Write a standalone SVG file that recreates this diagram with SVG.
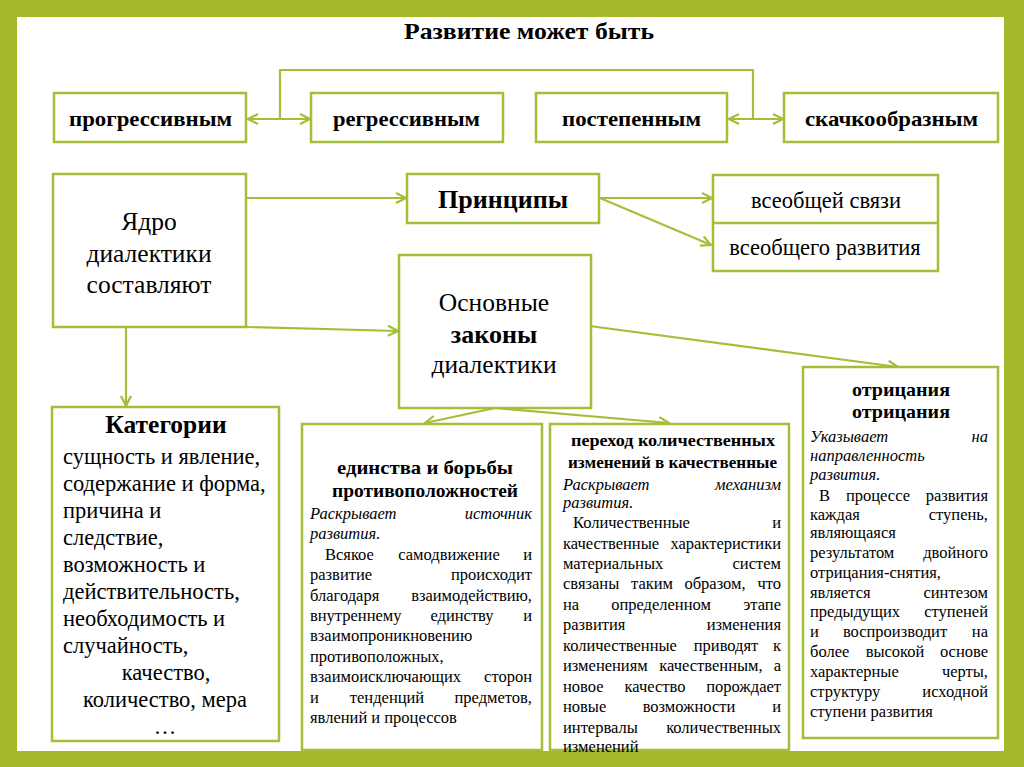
<svg xmlns="http://www.w3.org/2000/svg" width="1024" height="767" viewBox="0 0 1024 767">
<style>
.box{fill:#fff;stroke:#a3bf37;stroke-width:2.5}
.ln{fill:none;stroke:#a3bf37;stroke-width:2.2}
.t{font-family:"Liberation Serif","Times New Roman",serif;fill:#000}
.b{font-weight:bold}
.i{font-style:italic}
.c{text-anchor:middle}
.e{text-anchor:end}
.body{font-size:16.5px}
</style>
<defs>
<marker id="ah" viewBox="0 0 12 12" refX="11" refY="6" markerWidth="12" markerHeight="12" markerUnits="userSpaceOnUse" orient="auto-start-reverse">
<path d="M1,1 L11,6 L1,11" fill="none" stroke="#a3bf37" stroke-width="2.2"/>
</marker>
</defs>
<rect x="0" y="0" width="1024" height="767" fill="#a5b92a"/>
<rect x="17" y="17" width="987" height="734" fill="#fff"/>

<text class="t b c" x="529" y="39" font-size="24" textLength="250" lengthAdjust="spacingAndGlyphs">Развитие может быть</text>

<g id="connectors">
<path class="ln" d="M280,119 V70 H753 V119"/>
<path class="ln" d="M248,119 H310" marker-start="url(#ah)" marker-end="url(#ah)"/>
<path class="ln" d="M729,119 H783" marker-start="url(#ah)" marker-end="url(#ah)"/>
<path class="ln" d="M247,198 H406" marker-end="url(#ah)"/>
<path class="ln" d="M247,327 L398,331" marker-end="url(#ah)"/>
<path class="ln" d="M126,327 V406" marker-end="url(#ah)"/>
<path class="ln" d="M600,198 H712" marker-end="url(#ah)"/>
<path class="ln" d="M600,198 L711,245" marker-end="url(#ah)"/>
<path class="ln" d="M582,325 L898,367" marker-end="url(#ah)"/>
<path class="ln" d="M495,408 L425,423" marker-end="url(#ah)"/>
<path class="ln" d="M495,408 L669,423" marker-end="url(#ah)"/>
</g>

<g id="n-progressive">
<rect class="box" x="54" y="93" width="192" height="49"/>
<text class="t b c" x="150.5" y="126" font-size="21" textLength="163" lengthAdjust="spacingAndGlyphs">прогрессивным</text>
</g>
<g id="n-regressive">
<rect class="box" x="311" y="93" width="192" height="49"/>
<text class="t b c" x="406.5" y="126" font-size="21" textLength="147" lengthAdjust="spacingAndGlyphs">регрессивным</text>
</g>
<g id="n-gradual">
<rect class="box" x="536" y="93" width="191" height="49"/>
<text class="t b c" x="631.5" y="126" font-size="21" textLength="139" lengthAdjust="spacingAndGlyphs">постепенным</text>
</g>
<g id="n-leap">
<rect class="box" x="784" y="93" width="214" height="49"/>
<text class="t b c" x="891.5" y="126" font-size="21" textLength="173" lengthAdjust="spacingAndGlyphs">скачкообразным</text>
</g>

<g id="n-core">
<rect class="box" x="53" y="174" width="193" height="153"/>
<text class="t c" x="149" y="230" font-size="25.5">Ядро</text>
<text class="t c" x="149" y="262" font-size="25.5">диалектики</text>
<text class="t c" x="149" y="293" font-size="25.5">составляют</text>
</g>

<g id="n-principles">
<rect class="box" x="407" y="174" width="192" height="49"/>
<text class="t b c" x="503" y="208" font-size="26">Принципы</text>
</g>

<g id="n-universal">
<rect class="box" x="713" y="175" width="225" height="96"/>
<line x1="713" y1="223" x2="938" y2="223" stroke="#a3bf37" stroke-width="2.5"/>
<text class="t c" x="826" y="208" font-size="22.5">всеобщей связи</text>
<text class="t c" x="825" y="255" font-size="22.5">всеобщего развития</text>
</g>

<g id="n-laws">
<rect class="box" x="399" y="255" width="192" height="153"/>
<text class="t c" x="494" y="311" font-size="25.5">Основные</text>
<text class="t b c" x="494" y="343" font-size="26">законы</text>
<text class="t c" x="494" y="373" font-size="25.5">диалектики</text>
</g>

<g id="n-categories">
<rect class="box" x="52" y="407" width="227" height="334"/>
<text class="t b c" x="166" y="433" font-size="25.5">Категории</text>
<g class="t" font-size="22.5">
<text x="63" y="464">сущность и явление,</text>
<text x="63" y="491">содержание и форма,</text>
<text x="63" y="518">причина и</text>
<text x="63" y="545">следствие,</text>
<text x="63" y="572">возможность и</text>
<text x="63" y="599">действительность,</text>
<text x="63" y="626">необходимость и</text>
<text x="63" y="653">случайность,</text>
<text class="c" x="166" y="680">качество,</text>
<text class="c" x="165" y="707">количество, мера</text>
<text class="c" x="165" y="734">…</text>
</g>
</g>

<g id="n-unity">
<rect class="box" x="302" y="424" width="240" height="326"/>
<text class="t b c" x="425" y="474" font-size="19" textLength="176" lengthAdjust="spacingAndGlyphs">единства и борьбы</text>
<text class="t b c" x="425" y="497" font-size="19" textLength="186" lengthAdjust="spacingAndGlyphs">противоположностей</text>
<g class="t body">
<text class="i" x="310" y="519">Раскрывает</text><text class="i e" x="532" y="519">источник</text>
<text class="i" x="310" y="539">развития.</text>
<text x="325" y="560">Всякое</text><text class="c" x="449" y="560">самодвижение</text><text class="e" x="532" y="560">и</text>
<text x="310" y="580">развитие</text><text class="e" x="532" y="580">происходит</text>
<text x="310" y="601">благодаря</text><text class="e" x="532" y="601">взаимодействию,</text>
<text x="310" y="621">внутреннему</text><text class="c" x="462" y="621">единству</text><text class="e" x="532" y="621">и</text>
<text x="310" y="641">взаимопроникновению</text>
<text x="310" y="662">противоположных,</text>
<text x="310" y="682">взаимоисключающих</text><text class="e" x="532" y="682">сторон</text>
<text x="310" y="703">и</text><text class="c" x="387" y="703">тенденций</text><text class="e" x="532" y="703">предметов,</text>
<text x="310" y="723">явлений и процессов</text>
</g>
</g>

<g id="n-transition">
<rect class="box" x="550" y="424" width="239" height="326"/>
<text class="t b c" x="673" y="446" font-size="17.5" textLength="204" lengthAdjust="spacingAndGlyphs">переход количественных</text>
<text class="t b c" x="672.5" y="468" font-size="17.5" textLength="209" lengthAdjust="spacingAndGlyphs">изменений в качественные</text>
<g class="t body">
<text class="i" x="563" y="490">Раскрывает</text><text class="i e" x="781" y="490">механизм</text>
<text class="i" x="563" y="508">развития.</text>
<text x="573" y="528">Количественные</text><text class="e" x="781" y="528">и</text>
<text x="563" y="549">качественные</text><text class="e" x="781" y="549">характеристики</text>
<text x="563" y="569">материальных</text><text class="e" x="781" y="569">систем</text>
<text x="563" y="589">связаны</text><text class="c" x="652" y="589">таким</text><text class="c" x="715" y="589">образом,</text><text class="e" x="781" y="589">что</text>
<text x="563" y="610">на</text><text class="c" x="661" y="610">определенном</text><text class="e" x="781" y="610">этапе</text>
<text x="563" y="630">развития</text><text class="e" x="781" y="630">изменения</text>
<text x="563" y="651">количественные</text><text class="c" x="726" y="651">приводят</text><text class="e" x="781" y="651">к</text>
<text x="563" y="671">изменениям</text><text class="c" x="711" y="671">качественным,</text><text class="e" x="781" y="671">а</text>
<text x="563" y="692">новое</text><text class="c" x="655" y="692">качество</text><text class="e" x="781" y="692">порождает</text>
<text x="563" y="712">новые</text><text class="c" x="689" y="712">возможности</text><text class="e" x="781" y="712">и</text>
<text x="563" y="733">интервалы</text><text class="e" x="781" y="733">количественных</text>
<text x="563" y="752">изменений</text>
</g>
</g>

<g id="n-negation">
<rect class="box" x="803" y="367" width="195" height="371"/>
<text class="t b c" x="901" y="396" font-size="19" textLength="98" lengthAdjust="spacingAndGlyphs">отрицания</text>
<text class="t b c" x="901" y="418" font-size="19" textLength="98" lengthAdjust="spacingAndGlyphs">отрицания</text>
<g class="t body">
<text class="i" x="810" y="442">Указывает</text><text class="i e" x="988" y="442">на</text>
<text class="i" x="810" y="461">направленность</text>
<text class="i" x="810" y="480">развития.</text>
<text x="819" y="501">В</text><text class="c" x="878" y="501">процессе</text><text class="e" x="988" y="501">развития</text>
<text x="810" y="520">каждая</text><text class="e" x="988" y="520">ступень,</text>
<text x="810" y="538">являющаяся</text>
<text x="810" y="558">результатом</text><text class="e" x="988" y="558">двойного</text>
<text x="810" y="578">отрицания-снятия,</text>
<text x="810" y="598">является</text><text class="e" x="988" y="598">синтезом</text>
<text x="810" y="617">предыдущих</text><text class="e" x="988" y="617">ступеней</text>
<text x="810" y="637">и</text><text class="c" x="895" y="637">воспроизводит</text><text class="e" x="988" y="637">на</text>
<text x="810" y="657">более</text><text class="c" x="895" y="657">высокой</text><text class="e" x="988" y="657">основе</text>
<text x="810" y="677">характерные</text><text class="e" x="988" y="677">черты,</text>
<text x="810" y="697">структуру</text><text class="e" x="988" y="697">исходной</text>
<text x="810" y="717">ступени развития</text>
</g>
</g>
</svg>
